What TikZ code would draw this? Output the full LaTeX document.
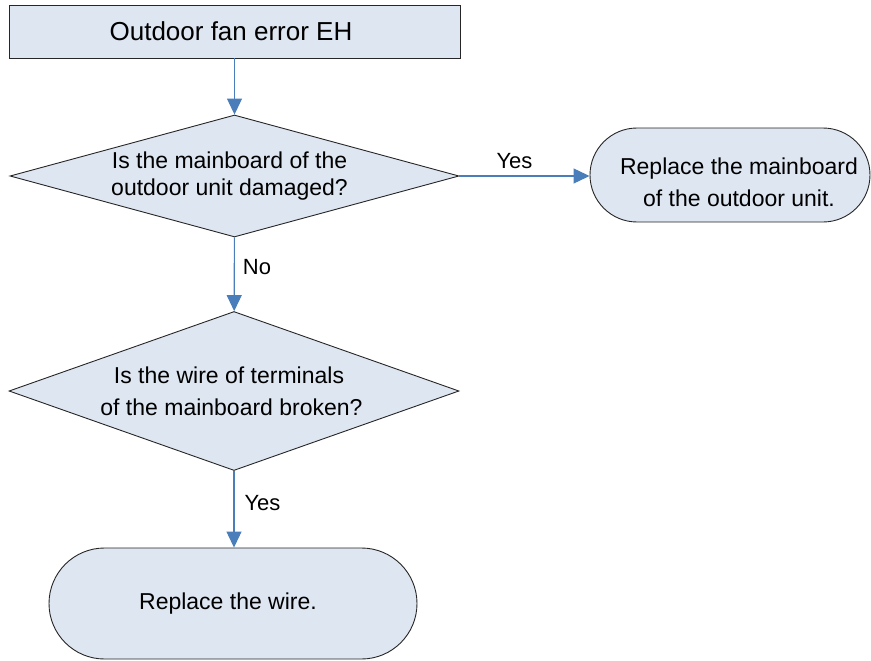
\documentclass[tikz,border=0pt]{standalone}
\usepackage{fontspec}
\setmainfont{Liberation Sans}
\usetikzlibrary{shapes.geometric,arrows.meta}
\definecolor{boxfill}{HTML}{DEE6F1}
\definecolor{flowblue}{HTML}{4A7EBB}
\begin{document}
\begin{tikzpicture}[x=1pt,y=-1pt,
  shapebox/.style={draw=black!85,line width=0.9pt,fill=boxfill,inner sep=0pt,align=center,
    font=\fontsize{23}{32}\selectfont},
  decision/.style={shapebox,diamond},
  stadium/.style={shapebox,rectangle},
  flow/.style={draw=flowblue,line width=1.1pt,-{Triangle[length=16pt,width=15pt]}},
  lbl/.style={inner sep=0pt,font=\fontsize{22}{26}\selectfont}]
\useasboundingbox (0,0) rectangle (871,661);
\node[shapebox,rectangle,minimum width=451pt,minimum height=53pt,font=\fontsize{26}{30}\selectfont]
  (top) at (234.5,31.5) {Outdoor fan error EH\rule{7pt}{0pt}};
\node[decision,shape aspect=3.68,minimum width=449pt,minimum height=122pt,font=\fontsize{23}{27}\selectfont]
  (d1) at (234.5,176) {Is the mainboard of the\rule{10pt}{0pt}\\outdoor unit damaged?\rule{10pt}{0pt}};
\node[stadium,minimum width=280pt,minimum height=94pt,rounded corners=47pt]
  (r1) at (730,175) {\rule{0pt}{31pt}\rule{18pt}{0pt}Replace the mainboard\\\rule{18pt}{0pt}of the outdoor unit.};
\node[decision,shape aspect=2.83,minimum width=450pt,minimum height=159pt]
  (d2) at (234,391) {Is the wire of terminals\rule{10pt}{0pt}\\of the mainboard broken?\rule{5pt}{0pt}};
\node[stadium,minimum width=368pt,minimum height=111pt,rounded corners=55.5pt]
  (r2) at (233,603.5) {Replace the wire.\rule{10pt}{0pt}};
\draw[flow] (top) -- (d1);
\draw[flow] (d1.east) -- (d1.east -| r1.west);
\draw[flow] (d1) -- (d2);
\draw[flow] (d2.south) -- (d2.south |- r2.north);
\node[lbl] (yes1) at (514.5,161) {Yes};
\node[lbl] (no1) at (257,267) {No};
\node[lbl] (yes2) at (262.5,503) {Yes};
\end{tikzpicture}
\end{document}
